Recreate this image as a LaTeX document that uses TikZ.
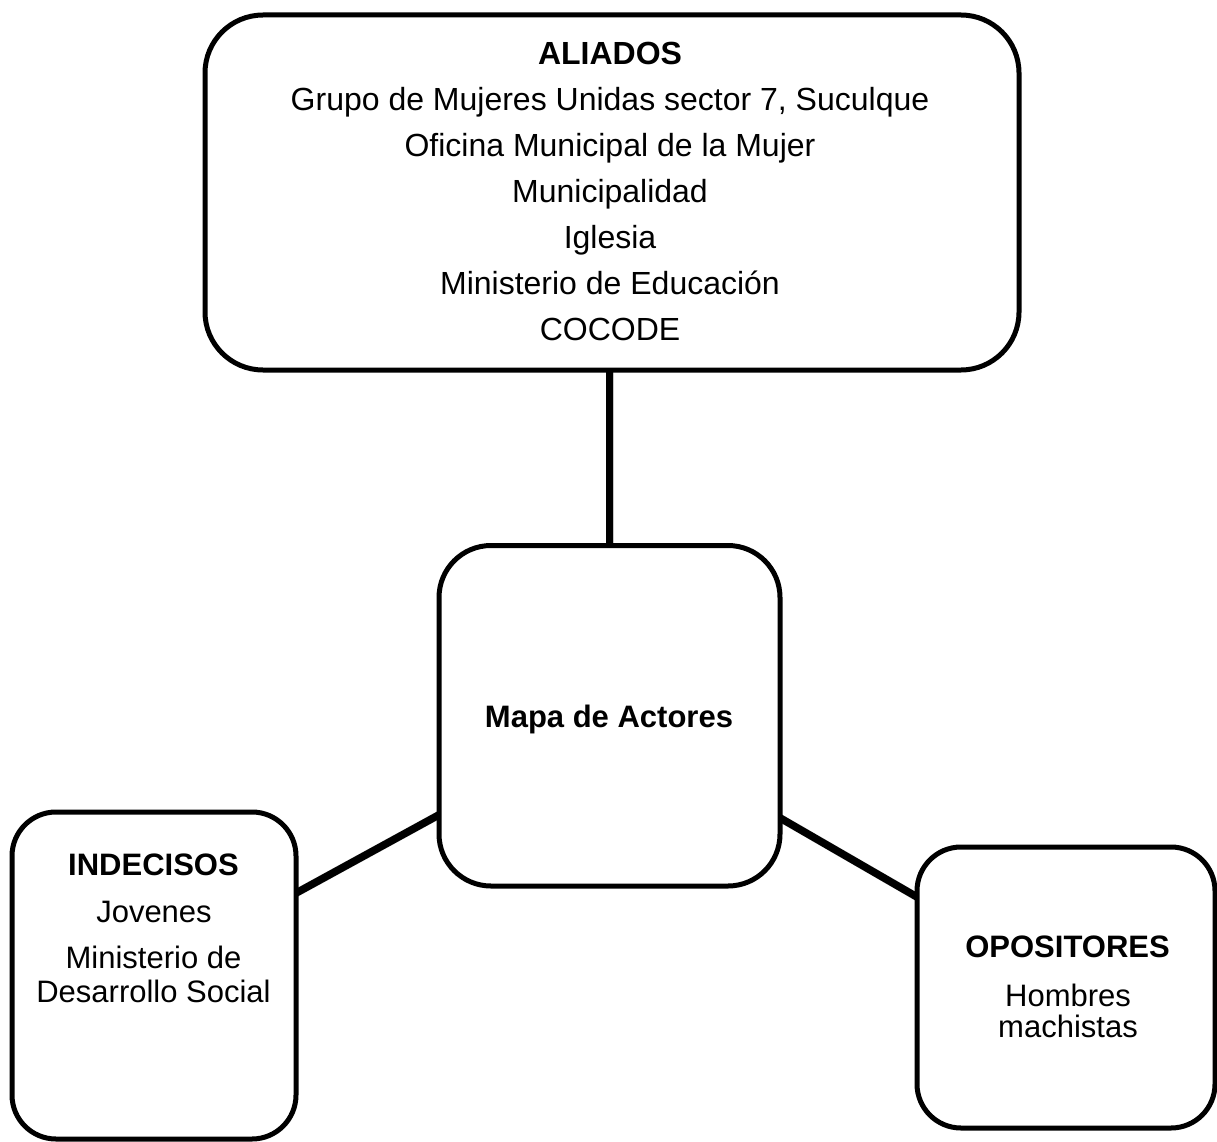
\documentclass[tikz,border=0pt]{standalone}
\usepackage{fontspec}
\setmainfont{Liberation Sans}
\usetikzlibrary{calc,backgrounds}
\begin{document}
\begin{tikzpicture}[x=1pt,y=-1pt,
  box/.style={draw=black, line width=5pt, rounded corners=#1, inner sep=0pt, outer sep=0pt},
  box/.default=50pt,
  conn/.style={draw=black, line width=7.5pt},
  connshadow/.style={draw=black!22, line width=8pt, shift={(1.5pt,-2pt)}},
  txt/.style={anchor=base, inner sep=0pt, font=\fontsize{31}{37}\selectfont},
  txtb/.style={txt, font=\fontsize{31}{37}\selectfont\bfseries},
  ttxt/.style={anchor=base, inner sep=0pt, font=\fontsize{32}{38}\selectfont},
  ttxtb/.style={ttxt, font=\fontsize{32}{38}\selectfont\bfseries}
]
\useasboundingbox (0,0) rectangle (1217,1142);

% boxes
\node[box=58pt, minimum width=814pt, minimum height=355pt] (aliados) at (612,192.5) {};
\node[box=52pt, minimum width=341pt, minimum height=340.5pt] (mapa) at (609.5,715.75) {};
\node[box=44pt, minimum width=284pt, minimum height=327pt] (indecisos) at (154,975.5) {};
\node[box=44pt, minimum width=298pt, minimum height=281pt] (opositores) at (1066,987.5) {};

% top texts
\node[ttxtb] (alT) at (610,64.3) {ALIADOS};
\node[ttxt] (al1) at (610,110.3) {Grupo de Mujeres Unidas sector 7, Suculque};
\node[ttxt] (al2) at (610,156.3) {Oficina Municipal de la Mujer};
\node[ttxt] (al3) at (610,202.3) {Municipalidad};
\node[ttxt] (al4) at (610,248.3) {Iglesia};
\node[ttxt] (al5) at (610,294.3) {Ministerio de Educación};
\node[ttxt] (al6) at (610,340.3) {COCODE};

% centre
\node[txtb] (mapaT) at (609,727) {Mapa de Actores};

% left
\node[txtb] (inT) at (153.5,875) {INDECISOS};
\node[txt] (in1) at (154,922) {Jovenes};
\node[txt] (in2) at (153.5,968) {Ministerio de};
\node[txt] (in3) at (153.5,1002) {Desarrollo Social};

% right
\node[txtb] (opT) at (1067.5,957) {OPOSITORES};
\node[txt] (op1) at (1068,1006) {Hombres};
\node[txt] (op2) at (1068,1037) {machistas};

% connectors
\coordinate (mTop) at (mapa.north);
\coordinate (aBot) at (mapa.north |- aliados.south);
\coordinate (mL) at ($(mapa.north west)!0.791!(mapa.south west)$);
\coordinate (iR) at ($(indecisos.north east)!0.248!(indecisos.south east)$);
\coordinate (mR) at ($(mapa.north east)!0.80!(mapa.south east)$);
\coordinate (oL) at ($(opositores.north west)!0.178!(opositores.south west)$);
\begin{scope}[on background layer]
  \draw[connshadow] (mTop) -- (aBot);
  \draw[connshadow] (mL) -- (iR);
  \draw[connshadow] (mR) -- (oL);
  \draw[conn] (mTop) -- (aBot);
  \draw[conn] (mL) -- (iR);
  \draw[conn] (mR) -- (oL);
\end{scope}
\end{tikzpicture}
\end{document}
